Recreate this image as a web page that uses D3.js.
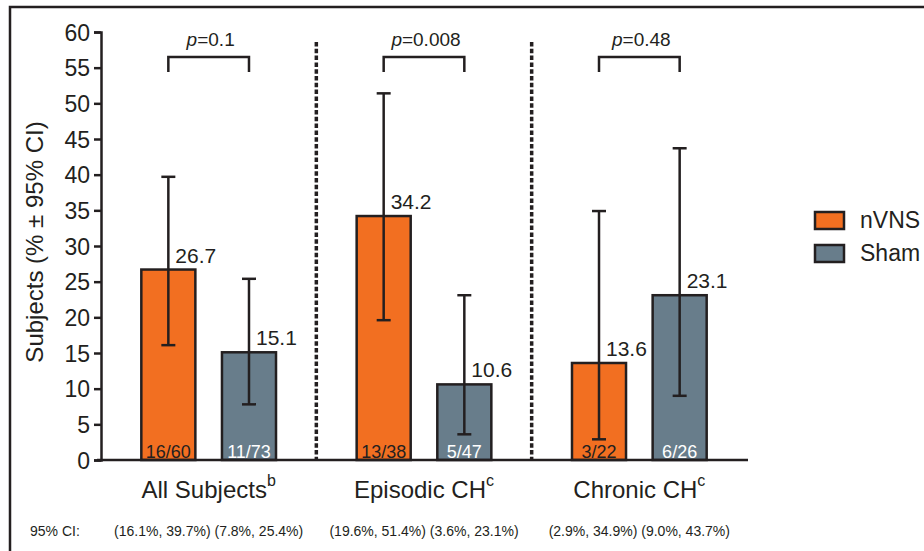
<!DOCTYPE html>
<html>
<head>
<meta charset="utf-8">
<script src="https://cdn.jsdelivr.net/npm/d3@7"></script>
<style>
  body { margin: 0; background: #fff; }
  text { font-family: "Liberation Sans", Arial, sans-serif; fill: #231f20; }
</style>
</head>
<body>
<div id="chart"></div>
<script>
const groups = ["All Subjects", "Episodic CH", "Chronic CH"];
const groupSup = ["b", "c", "c"];
const series = ["nVNS", "Sham"];
const nvnsValues = [26.7, 34.2, 13.6];
const shamValues = [15.1, 10.6, 23.1];
const nvnsLow = [16.1, 19.6, 2.9];
const nvnsHigh = [39.7, 51.4, 34.9];
const shamLow = [7.8, 3.6, 9.0];
const shamHigh = [25.4, 23.1, 43.7];
const nvnsCounts = ["16/60", "13/38", "3/22"];
const shamCounts = ["11/73", "5/47", "6/26"];
const pValues = ["0.1", "0.008", "0.48"];
const yTicks = [0, 5, 10, 15, 20, 25, 30, 35, 40, 45, 50, 55, 60];

const width = 924, height = 551;
const dark = "#231f20";
const colors = { nVNS: "#f26f21", Sham: "#687d8b" };

const svg = d3.select("#chart").append("svg")
  .attr("width", width).attr("height", height)
  .attr("viewBox", `0 0 ${width} ${height}`);

// frame (only top and left visible in the crop)
svg.append("path")
  .attr("d", `M10,${height} V7 H${width}`)
  .attr("fill", "none").attr("stroke", dark).attr("stroke-width", 2.5);

const x0 = d3.scaleBand().domain(groups).range([101, 747]);
const x1 = d3.scaleBand().domain(series).range([0, x0.bandwidth()])
  .paddingInner(0.33).paddingOuter(0.5);
const y = d3.scaleLinear().domain([0, 60]).range([460, 32]);

const rows = groups.map((g, i) => ({
  group: g,
  sup: groupSup[i],
  p: pValues[i],
  bars: [
    { s: "nVNS", v: nvnsValues[i], lo: nvnsLow[i], hi: nvnsHigh[i], n: nvnsCounts[i] },
    { s: "Sham", v: shamValues[i], lo: shamLow[i], hi: shamHigh[i], n: shamCounts[i] }
  ]
}));

// y axis
const yAxis = svg.append("g")
  .attr("transform", "translate(101,0)")
  .call(d3.axisLeft(y).tickValues(yTicks).tickSize(7).tickPadding(4));
yAxis.select(".domain").attr("stroke", dark).attr("stroke-width", 2.5);
yAxis.selectAll(".tick line").attr("stroke", dark).attr("stroke-width", 2.5);
yAxis.selectAll(".tick text")
  .attr("font-size", 23).attr("font-family", "Liberation Sans, Arial, sans-serif")
  .attr("fill", dark).attr("dy", "0.36em");

svg.append("text")
  .attr("transform", "translate(43,242) rotate(-90)")
  .attr("text-anchor", "middle")
  .attr("font-size", 24)
  .text("Subjects (% \u00b1 95% CI)");

// dashed separators
x0.domain().slice(1).forEach(g => {
  svg.append("line")
    .attr("x1", x0(g)).attr("x2", x0(g))
    .attr("y1", 42).attr("y2", y(0))
    .attr("stroke", dark).attr("stroke-width", 3.5)
    .attr("stroke-dasharray", "4.5,2.3");
});

const grp = svg.selectAll(".grp").data(rows).enter().append("g")
  .attr("class", "grp")
  .attr("transform", d => `translate(${x0(d.group)},0)`);

const bar = grp.selectAll(".bar").data(d => d.bars).enter().append("g").attr("class", "bar");

bar.append("rect")
  .attr("x", d => x1(d.s))
  .attr("width", x1.bandwidth())
  .attr("y", d => y(d.v))
  .attr("height", d => y(0) - y(d.v))
  .attr("fill", d => colors[d.s])
  .attr("stroke", dark).attr("stroke-width", 2.5);

const cx = d => x1(d.s) + x1.bandwidth() / 2;
const cap = 7;

bar.append("line")
  .attr("x1", cx).attr("x2", cx)
  .attr("y1", d => y(d.lo)).attr("y2", d => y(d.hi))
  .attr("stroke", dark).attr("stroke-width", 2.5);
bar.append("line")
  .attr("x1", d => cx(d) - cap).attr("x2", d => cx(d) + cap)
  .attr("y1", d => y(d.hi)).attr("y2", d => y(d.hi))
  .attr("stroke", dark).attr("stroke-width", 2.5);
bar.append("line")
  .attr("x1", d => cx(d) - cap).attr("x2", d => cx(d) + cap)
  .attr("y1", d => y(d.lo)).attr("y2", d => y(d.lo))
  .attr("stroke", dark).attr("stroke-width", 2.5);

bar.append("text")
  .attr("x", d => cx(d) + 7)
  .attr("y", d => y(d.v) - 7)
  .attr("font-size", 21)
  .text(d => d.v.toFixed(1));

bar.append("text")
  .attr("x", cx)
  .attr("y", y(0) - 2)
  .attr("text-anchor", "middle")
  .attr("font-size", 18)
  .style("fill", d => d.s === "Sham" ? "#fff" : dark)
  .text(d => d.n);

// p-value brackets
const bx1 = x1("nVNS") + x1.bandwidth() / 2;
const bx2 = x1("Sham") + x1.bandwidth() / 2;
grp.append("path")
  .attr("d", `M${bx1},72 V57 H${bx2} V72`)
  .attr("fill", "none").attr("stroke", dark).attr("stroke-width", 2.5);

const pt = grp.append("text")
  .attr("x", x0.bandwidth() / 2 + 2)
  .attr("y", 46)
  .attr("text-anchor", "middle")
  .attr("font-size", 19);
pt.append("tspan").attr("font-style", "italic").text("p");
pt.append("tspan").text(d => "=" + d.p);

// x axis
svg.append("line")
  .attr("x1", 97).attr("x2", 748)
  .attr("y1", y(0)).attr("y2", y(0))
  .attr("stroke", dark).attr("stroke-width", 2.5);

const cat = grp.append("text")
  .attr("x", x0.bandwidth() / 2)
  .attr("y", 498)
  .attr("text-anchor", "middle")
  .attr("font-size", 24);
cat.append("tspan").text(d => d.group);
cat.append("tspan").attr("font-size", 16).attr("dy", -12).text(d => d.sup);

// 95% CI row
svg.append("text").attr("x", 30).attr("y", 536).attr("font-size", 14).text("95% CI:");
const fmt = v => v.toFixed(1) + "%";
grp.append("text")
  .attr("x", x0.bandwidth() / 2)
  .attr("y", 536)
  .attr("text-anchor", "middle")
  .attr("font-size", 14)
  .text(d => d.bars.map(b => `(${fmt(b.lo)}, ${fmt(b.hi)})`).join(" "));

// legend
const leg = svg.selectAll(".leg").data(series).enter().append("g")
  .attr("class", "leg")
  .attr("transform", (d, i) => `translate(815,${212 + i * 33})`);
leg.append("rect")
  .attr("width", 29).attr("height", 17)
  .attr("fill", d => colors[d])
  .attr("stroke", dark).attr("stroke-width", 2.5);
leg.append("text")
  .attr("x", 45).attr("y", 16)
  .attr("font-size", 23)
  .text(d => d);
</script>
</body>
</html>
